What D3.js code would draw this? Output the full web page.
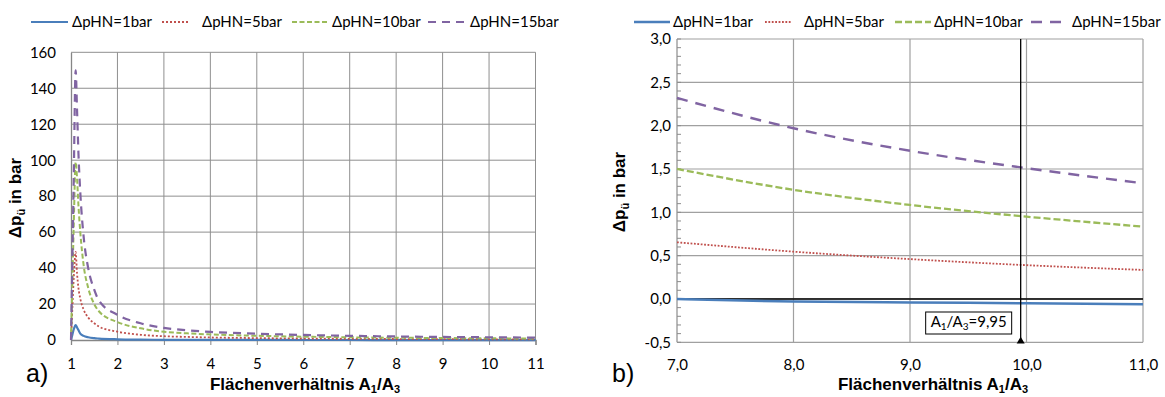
<!DOCTYPE html>
<html>
<head>
<meta charset="utf-8">
<script src="https://cdn.jsdelivr.net/npm/d3@7"></script>
<style>
  body { margin: 0; background: #fff; }
  svg { display: block; }
  text { font-family: Lato, 'Open Sans', sans-serif; fill: #000; }
  .title { font-family: 'Liberation Sans', Arial, sans-serif; font-weight: bold; }
</style>
</head>
<body>
<svg id="chart" width="1165" height="397"></svg>
<script>
// Flächenverhältnis A1/A3 (x values shared by all series)
const ratio = [1, 1.03, 1.06, 1.1, 1.13, 1.16, 1.2, 1.27, 1.37, 1.5, 1.6, 2, 2.5, 3, 3.5, 4, 5, 6, 7, 8, 9, 10, 11]

// Δpü in bar for each ΔpHN
const dp1 = [0, 3, 6, 8.3, 7, 5.5, 3.5, 2.3, 1.5, 1.0, 0.8, 0.4, 0.2, 0.1, 0.06, 0.03, 0.02, 0.01, 0.0, -0.03, -0.04, -0.05, -0.06]
const dp5 = [0, 18, 35, 49, 37, 29, 23, 17, 12.5, 9.3, 7.5, 4.6, 2.9, 2.1, 1.7, 1.4, 1.05, 0.82, 0.654, 0.546, 0.46, 0.39, 0.335]
const dp10 = [0, 32, 65, 99, 90, 75, 60, 42, 29, 20, 16, 10, 6.5, 4.6, 3.7, 3.1, 2.35, 1.85, 1.5, 1.26, 1.085, 0.95, 0.835]
const dp15 = [0, 45, 92, 150, 128, 104, 82, 58, 40, 28, 22, 14, 9.3, 6.7, 5.4, 4.5, 3.5, 2.8, 2.32, 1.97, 1.71, 1.51, 1.335]

const seriesNames = ['ΔpHN=1bar', 'ΔpHN=5bar', 'ΔpHN=10bar', 'ΔpHN=15bar']
const seriesValues = [dp1, dp5, dp10, dp15]

const xTicksA = [1, 2, 3, 4, 5, 6, 7, 8, 9, 10, 11]
const yTicksA = [0, 20, 40, 60, 80, 100, 120, 140, 160]
const xTicksB = [7, 8, 9, 10, 11]
const yTicksB = [-0.5, 0, 0.5, 1, 1.5, 2, 2.5, 3]
const markRatio = 9.95

const colors = ['#4a7ebb', '#c0504d', '#9bbb59', '#8064a2']
const dashA = [null, '2,2', '5,2.5', '8,6']
const dashB = [null, '1.8,1.6', '7,3', '11,8']
const widthA = [2.2, 1.8, 2, 2.2]
const widthB = [2.5, 1.8, 2.3, 2.4]

const svg = d3.select('#chart')
const comma = v => d3.format('.1f')(v).replace('.', ',').replace('−', '-')

const series = seriesValues.map((vals, i) => ratio.map((r, j) => ({ x: r, y: vals[j], i })))

function legend(lineStart, lineEnd, textX, dash, width) {
  const g = svg.append('g')
  seriesNames.forEach((name, i) => {
    g.append('line')
      .attr('x1', lineStart[i]).attr('x2', lineEnd[i])
      .attr('y1', 22).attr('y2', 22)
      .attr('stroke', colors[i])
      .attr('stroke-width', width[i])
      .attr('stroke-dasharray', dash[i])
    g.append('text')
      .attr('x', textX[i]).attr('y', 27)
      .style('font-size', '15px')
      .text(name)
  })
}

function yTitle(x, y) {
  const t = svg.append('text').attr('class', 'title')
    .attr('transform', `translate(${x},${y}) rotate(-90)`)
    .attr('text-anchor', 'middle')
    .style('font-size', '17px')
  t.append('tspan').text('Δp')
  t.append('tspan').text('ü').style('font-size', '11px').attr('dy', 4)
  t.append('tspan').text(' in bar').attr('dy', -4)
}

function xTitle(x, y) {
  const t = svg.append('text').attr('class', 'title')
    .attr('x', x).attr('y', y)
    .attr('text-anchor', 'middle')
    .style('font-size', '17px')
  t.append('tspan').text('Flächenverhältnis A')
  t.append('tspan').text('1').style('font-size', '11px').attr('dy', 3)
  t.append('tspan').text('/A').attr('dy', -3)
  t.append('tspan').text('3').style('font-size', '11px').attr('dy', 3)
}

// ---------- chart a) ----------
const xA = d3.scaleLinear().domain([1, 11]).range([71, 535.5])
const yA = d3.scaleLinear().domain([0, 160]).range([340, 52.3])

const gA = svg.append('g')
gA.selectAll('.vgrid').data(xTicksA.slice(1)).join('line')
  .attr('x1', d => xA(d)).attr('x2', d => xA(d))
  .attr('y1', yA(0)).attr('y2', yA(160))
  .attr('stroke', '#8f8f8f').attr('stroke-width', 1)
gA.selectAll('.hgrid').data(yTicksA.slice(1)).join('line')
  .attr('x1', xA(1)).attr('x2', xA(11))
  .attr('y1', d => yA(d)).attr('y2', d => yA(d))
  .attr('stroke', '#8f8f8f').attr('stroke-width', 1)

const axA = gA.append('g').attr('transform', `translate(0,${yA(0)})`)
  .call(d3.axisBottom(xA).tickValues(xTicksA).tickSize(5).tickPadding(13).tickFormat(d3.format('d')))
const ayA = gA.append('g').attr('transform', `translate(${xA(1)},0)`)
  .call(d3.axisLeft(yA).tickValues(yTicksA).tickSize(0).tickPadding(15).tickFormat(d3.format('d')))
;[axA, ayA].forEach(a => {
  a.select('.domain').attr('stroke', '#868686').attr('stroke-width', 1.3)
  a.selectAll('.tick line').attr('stroke', '#868686')
  a.selectAll('text').style('font-size', '15px').style('font-family', 'Lato, sans-serif').attr('fill', '#000')
})

const lineA = d3.line().x(d => xA(d.x)).y(d => yA(d.y)).curve(d3.curveMonotoneX)
gA.selectAll('.series').data(series).join('path')
  .attr('d', lineA)
  .attr('fill', 'none')
  .attr('stroke', (d, i) => colors[i])
  .attr('stroke-width', (d, i) => widthA[i])
  .attr('stroke-dasharray', (d, i) => dashA[i])

legend([31, 162, 292, 428], [68, 188, 328, 467], [72, 202, 332, 470], dashA, widthA)
yTitle(21, 198)
xTitle(305, 390)
svg.append('text').attr('x', 26).attr('y', 382)
  .style('font-family', "'Liberation Sans', Arial, sans-serif").style('font-size', '25px').text('a)')

// ---------- chart b) ----------
const xB = d3.scaleLinear().domain([7, 11]).range([677, 1143])
const yB = d3.scaleLinear().domain([-0.5, 3]).range([342.3, 39])

const gB = svg.append('g')
gB.selectAll('.vgrid').data(xTicksB).join('line')
  .attr('x1', d => xB(d)).attr('x2', d => xB(d))
  .attr('y1', yB(-0.5)).attr('y2', yB(3))
  .attr('stroke', (d, i) => (i === 0 ? '#8c8c8c' : '#a0a0a0')).attr('stroke-width', 1.2)
gB.selectAll('.hgrid').data(yTicksB).join('line')
  .attr('x1', xB(7)).attr('x2', xB(11))
  .attr('y1', d => yB(d)).attr('y2', d => yB(d))
  .attr('stroke', '#a0a0a0').attr('stroke-width', 1.2)

// minor ticks on the value axis
gB.selectAll('.minor').data(d3.range(-5, 31).map(v => v / 10)).join('line')
  .attr('x1', xB(7)).attr('x2', xB(7) + 4)
  .attr('y1', d => yB(d)).attr('y2', d => yB(d))
  .attr('stroke', '#8c8c8c').attr('stroke-width', 1)

const axB = gB.append('g').attr('transform', `translate(0,${yB(-0.5)})`)
  .call(d3.axisBottom(xB).tickValues(xTicksB).tickSize(0).tickPadding(17).tickFormat(comma))
const ayB = gB.append('g').attr('transform', `translate(${xB(7)},0)`)
  .call(d3.axisLeft(yB).tickValues(yTicksB).tickSize(0).tickPadding(6).tickFormat(comma))
;[axB, ayB].forEach(a => {
  a.select('.domain').remove()
  a.selectAll('text').style('font-size', '15px').style('font-family', 'Lato, sans-serif').attr('fill', '#000')
})

// zero line
gB.append('line')
  .attr('x1', xB(7)).attr('x2', xB(11))
  .attr('y1', yB(0)).attr('y2', yB(0))
  .attr('stroke', '#000').attr('stroke-width', 1.5)

const lineB = d3.line().x(d => xB(d.x)).y(d => yB(d.y)).curve(d3.curveMonotoneX)
gB.selectAll('.series').data(series.map(s => s.filter(d => d.x >= 7))).join('path')
  .attr('d', lineB)
  .attr('fill', 'none')
  .attr('stroke', (d, i) => colors[i])
  .attr('stroke-width', (d, i) => widthB[i])
  .attr('stroke-dasharray', (d, i) => dashB[i])

// marker line at A1/A3 = 9,95
const mx = xB(markRatio)
gB.append('line')
  .attr('x1', mx).attr('x2', mx)
  .attr('y1', yB(3)).attr('y2', yB(-0.5))
  .attr('stroke', '#000').attr('stroke-width', 1.3)
gB.append('path')
  .attr('d', d3.symbol(d3.symbolTriangle).size(28))
  .attr('transform', `translate(${mx},${yB(-0.5) - 1})`)
  .attr('fill', '#000')
gB.append('rect')
  .attr('x', mx - 95).attr('y', 312)
  .attr('width', 86).attr('height', 22)
  .attr('fill', '#fff').attr('stroke', '#000').attr('stroke-width', 1)
const ann = gB.append('text')
  .attr('x', mx - 52).attr('y', 327)
  .attr('text-anchor', 'middle')
  .style('font-size', '15px')
ann.append('tspan').text('A')
ann.append('tspan').text('1').style('font-size', '10px').attr('dy', 3)
ann.append('tspan').text('/A').attr('dy', -3)
ann.append('tspan').text('3').style('font-size', '10px').attr('dy', 3)
ann.append('tspan').text('=' + d3.format('.2f')(markRatio).replace('.', ',')).attr('dy', -3)

legend([634, 765, 895, 1031], [670, 791, 931, 1069], [673, 804, 934, 1072], dashB, widthB)
yTitle(625, 192)
xTitle(933, 390)
svg.append('text').attr('x', 612).attr('y', 382)
  .style('font-family', "'Liberation Sans', Arial, sans-serif").style('font-size', '25px').text('b)')
</script>
</body>
</html>
